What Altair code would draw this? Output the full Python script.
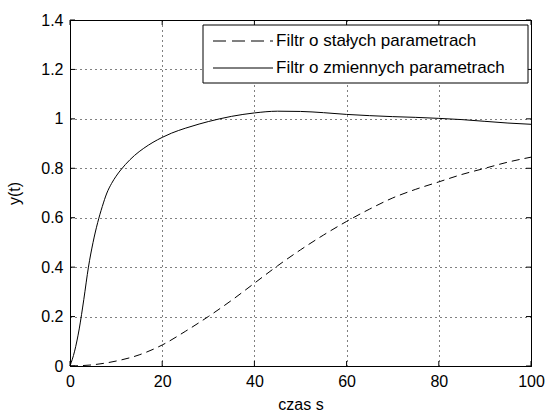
import altair as alt
import pandas as pd

# ---- data ----
t_solid = [0, 1, 2, 3, 4, 5, 6, 7, 8, 9, 10, 11, 12, 14, 16, 18, 20, 22, 25, 28, 30,
           35, 40, 45, 50, 55, 60, 65, 70, 75, 80, 85, 90, 95, 100]
y_solid = [0, 0.06, 0.15, 0.27, 0.40, 0.50, 0.58, 0.645, 0.70, 0.738, 0.768, 0.793,
           0.815, 0.852, 0.881, 0.905, 0.925, 0.942, 0.962, 0.979, 0.989, 1.01, 1.024, 1.031,
           1.03, 1.025, 1.018, 1.013, 1.009, 1.006, 1.002, 0.997, 0.99, 0.983, 0.978]

t_dashed = [0, 5, 10, 15, 20, 25, 30, 35, 40, 45, 50, 55, 60, 65, 70, 75, 80, 85, 90, 95, 100]
y_dashed = [0, 0.005, 0.02, 0.045, 0.085, 0.14, 0.2, 0.265, 0.335, 0.405, 0.47, 0.53,
            0.585, 0.635, 0.68, 0.715, 0.745, 0.775, 0.80, 0.825, 0.845]

x_ticks = [0, 20, 40, 60, 80, 100]
y_ticks = [0, 0.2, 0.4, 0.6, 0.8, 1.0, 1.2, 1.4]
legend_labels = ["Filtr o stałych parametrach", "Filtr o zmiennych parametrach"]
x_title = "czas s"
y_title = "y(t)"

W, H = 461, 346
FONT = "Liberation Sans"

df_s = pd.DataFrame({"t": t_solid, "y": y_solid})
df_d = pd.DataFrame({"t": t_dashed, "y": y_dashed})
df_xt = pd.DataFrame({"v": x_ticks})
df_yt = pd.DataFrame({"v": y_ticks})
one = pd.DataFrame({"a": [0]})

xscale = alt.Scale(domain=[0, 100], nice=False, zero=False)
yscale = alt.Scale(domain=[0, 1.4], nice=False, zero=False)

xaxis = alt.Axis(values=x_ticks, title=x_title, grid=True, tickSize=0, domain=False,
                 labelPadding=7, titlePadding=7, labelFlush=False,
                 labelExpr="format(datum.value, 'd')")
yaxis = alt.Axis(values=y_ticks, title=y_title, grid=True, tickSize=0, domain=False,
                 labelPadding=7, titlePadding=18, labelFlush=False,
                 labelExpr="datum.value == 0 || datum.value == 1 ? format(datum.value, 'd') : format(datum.value, '.1f')")

X = alt.X("t:Q", scale=xscale, axis=xaxis)
Y = alt.Y("y:Q", scale=yscale, axis=yaxis)

solid = alt.Chart(df_s).mark_line(color="black", strokeWidth=1, interpolate="monotone").encode(x=X, y=Y)
dashed = alt.Chart(df_d).mark_line(color="black", strokeWidth=1, strokeDash=[8, 5],
                                   interpolate="monotone").encode(x=X, y=Y)

XT = alt.X("v:Q", scale=xscale, axis=xaxis)
YT = alt.Y("v:Q", scale=yscale, axis=yaxis)
tick_b = alt.Chart(df_xt).mark_rule(color="black").encode(x=XT, y=alt.value(H), y2=alt.value(H - 5))
tick_t = alt.Chart(df_xt).mark_rule(color="black").encode(x=XT, y=alt.value(0), y2=alt.value(5))
tick_l = alt.Chart(df_yt).mark_rule(color="black").encode(y=YT, x=alt.value(0), x2=alt.value(5))
tick_r = alt.Chart(df_yt).mark_rule(color="black").encode(y=YT, x=alt.value(W), x2=alt.value(W - 5))

# legend box
leg_box = alt.Chart(one).mark_rect(fill="white", stroke="black", strokeWidth=1).encode(
    x=alt.value(133), x2=alt.value(458), y=alt.value(5), y2=alt.value(63))
leg_l1 = alt.Chart(one).mark_rule(color="black", strokeWidth=1, strokeDash=[13, 6]).encode(
    x=alt.value(143), x2=alt.value(203), y=alt.value(21))
leg_l2 = alt.Chart(one).mark_rule(color="black", strokeWidth=1).encode(
    x=alt.value(143), x2=alt.value(203), y=alt.value(48))
leg_t1 = alt.Chart(one).mark_text(align="left", baseline="middle", font=FONT, fontSize=17,
                                  color="black").encode(
    x=alt.value(206), y=alt.value(21), text=alt.value(legend_labels[0]))
leg_t2 = alt.Chart(one).mark_text(align="left", baseline="middle", font=FONT, fontSize=17,
                                  color="black").encode(
    x=alt.value(206), y=alt.value(48), text=alt.value(legend_labels[1]))

chart = alt.layer(
    dashed, solid, tick_b, tick_t, tick_l, tick_r,
    leg_box, leg_l1, leg_l2, leg_t1, leg_t2
).properties(
    width=W, height=H, autosize="none",
    padding={"left": 70, "top": 20, "right": 14, "bottom": 46},
    background="white",
).configure_view(
    stroke="black", strokeWidth=1
).configure_axis(
    labelFont=FONT, labelFontSize=16, labelColor="black",
    titleFont=FONT, titleFontSize=16, titleFontWeight="normal", titleColor="black",
    gridColor="black", gridDash=[1, 4], gridWidth=1, gridOpacity=1,
)

chart.save("out.html", embed_options={"renderer": "svg", "actions": False})
